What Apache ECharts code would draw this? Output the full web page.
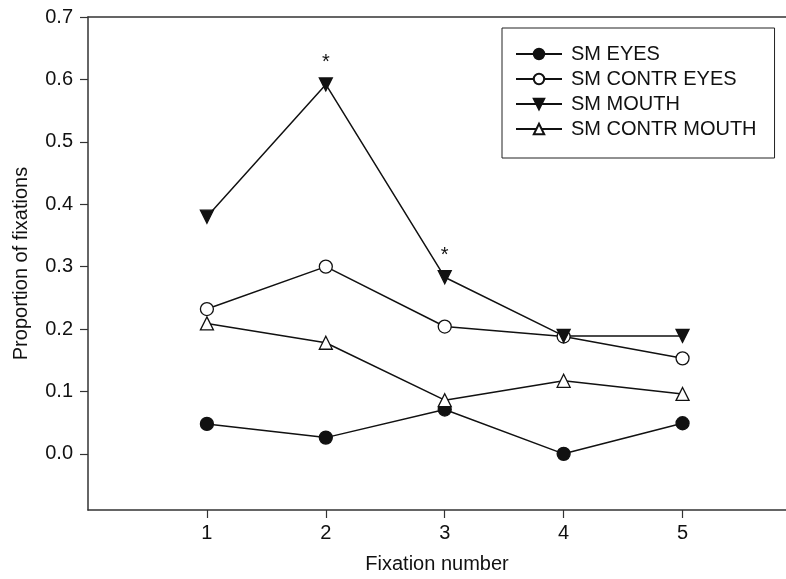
<!DOCTYPE html>
<html>
<head>
<meta charset="utf-8">
<script src="https://cdn.jsdelivr.net/npm/echarts@6/dist/echarts.min.js"></script>
<style>html,body{margin:0;padding:0;background:#fff}#c{width:786px;height:579px}</style>
</head>
<body>
<div id="c"></div>
<script>
var fixations = [1, 2, 3, 4, 5];
var smEyes = [0.048, 0.026, 0.071, 0.0, 0.049];
var smContrEyes = [0.232, 0.300, 0.204, 0.188, 0.153];
var smMouth = [0.380, 0.592, 0.283, 0.189, 0.189];
var smContrMouth = [0.209, 0.178, 0.086, 0.117, 0.096];
var mouthSignificant = [false, true, true, false, false];
var yTicks = [0, 0.1, 0.2, 0.3, 0.4, 0.5, 0.6, 0.7];

var FONT = 'Liberation Sans, Arial, sans-serif';

function pairs(vals, flags) {
  return vals.map(function (v, i) {
    var d = { value: [fixations[i], v] };
    if (flags && flags[i]) {
      d.label = { show: true, formatter: '*', position: 'top', distance: 5, fontSize: 20, color: '#111', fontFamily: FONT };
    }
    return d;
  });
}

function series(name, data, symbol, filled, rotate) {
  return {
    name: name,
    type: 'line',
    data: data,
    symbol: symbol,
    symbolSize: 13,
    symbolRotate: rotate || 0,
    showAllSymbol: true,
    lineStyle: { color: '#111', width: 1.5 },
    itemStyle: { color: filled ? '#111' : '#fff', borderColor: '#111', borderWidth: 1.3 },
    emphasis: { disabled: true },
    z: 3
  };
}

var chart = echarts.init(document.getElementById('c'), null, { renderer: 'canvas' });
chart.setOption({
  animation: false,
  backgroundColor: '#fff',
  textStyle: { fontFamily: FONT },
  grid: { left: 88, right: 0, top: 17, bottom: 63, containLabel: false },
  legend: {
    orient: 'vertical',
    left: 502,
    top: 28,
    borderColor: '#222',
    borderWidth: 1,
    padding: [16, 18, 19, 13],
    itemGap: 5,
    itemWidth: 46,
    itemHeight: 13,
    textStyle: { fontSize: 20, color: '#111', fontFamily: FONT, padding: [0, 0, 0, 4] },
    data: ['SM EYES', 'SM CONTR EYES', 'SM MOUTH', 'SM CONTR MOUTH']
  },
  xAxis: [{
    type: 'value',
    min: 0,
    max: 5.87,
    name: 'Fixation number',
    nameLocation: 'middle',
    nameGap: 44,
    nameTextStyle: { fontSize: 20, color: '#111', fontFamily: FONT },
    axisLine: { show: true, onZero: false, lineStyle: { color: '#333', width: 1.5 } },
    axisTick: { show: true, length: 8, customValues: fixations, lineStyle: { color: '#333', width: 1.2 } },
    axisLabel: { customValues: fixations, fontSize: 20, color: '#111', margin: 13, fontFamily: FONT },
    splitLine: { show: false }
  }, {
    type: 'value',
    position: 'top',
    min: 0,
    max: 5.87,
    axisLine: { show: true, onZero: false, lineStyle: { color: '#333', width: 1.5 } },
    axisTick: { show: false },
    axisLabel: { show: false },
    splitLine: { show: false }
  }],
  yAxis: {
    type: 'value',
    min: -0.09,
    max: 0.7,
    name: 'Proportion of fixations',
    nameLocation: 'middle',
    nameGap: 57,
    nameTextStyle: { fontSize: 20, color: '#111', fontFamily: FONT },
    axisLine: { show: true, onZero: false, lineStyle: { color: '#333', width: 1.5 } },
    axisTick: { show: true, length: 8, customValues: yTicks, lineStyle: { color: '#333', width: 1.2 } },
    axisLabel: {
      customValues: yTicks, fontSize: 20, color: '#111', margin: 15, fontFamily: FONT,
      formatter: function (v) { return Number(v).toFixed(1); }
    },
    splitLine: { show: false }
  },
  series: [
    series('SM EYES', pairs(smEyes), 'circle', true),
    series('SM CONTR EYES', pairs(smContrEyes), 'circle', false),
    series('SM MOUTH', pairs(smMouth, mouthSignificant), 'triangle', true, 180),
    series('SM CONTR MOUTH', pairs(smContrMouth), 'triangle', false)
  ]
});
</script>
</body>
</html>
